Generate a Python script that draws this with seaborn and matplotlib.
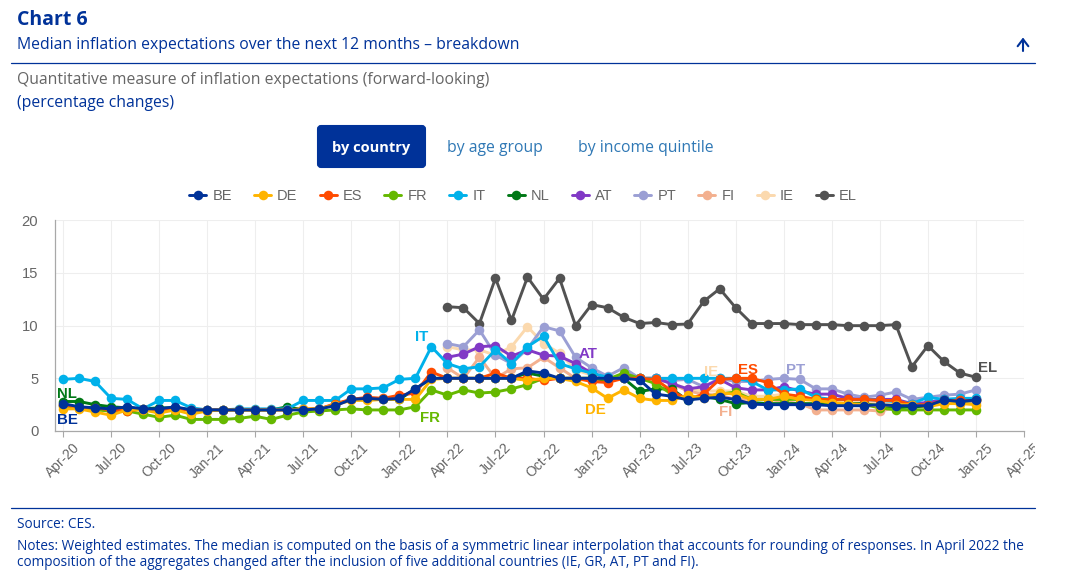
import matplotlib
matplotlib.use("Agg")
import matplotlib.pyplot as plt
from matplotlib.patches import FancyBboxPatch
from matplotlib.transforms import Bbox
import numpy as np
import pandas as pd
import seaborn as sns

NA = None
countries = ["BE", "DE", "ES", "FR", "IT", "NL", "AT", "PT", "FI", "IE", "EL"]
tick_labels = ["Apr-20", "Jul-20", "Oct-20", "Jan-21", "Apr-21", "Jul-21", "Oct-21", "Jan-22", "Apr-22", "Jul-22",
               "Oct-22", "Jan-23", "Apr-23", "Jul-23", "Oct-23", "Jan-24", "Apr-24", "Jul-24", "Oct-24", "Jan-25", "Apr-25"]

BE = [2.6,2.3,2.2,2.1,2.3,2.1,2.1,2.3,2.0,2.0, 2.0,2.0,2.0,2.0,2.0,2.0,2.1,2.4,3.0,3.1,
      3.0,3.1,4.0,5.0,5.0,5.0,5.0,5.0,5.0,5.7, 5.5,5.0,5.0,5.0,5.0,5.0,4.85,3.5,3.3,2.95,
      3.1,3.2,3.0,2.55,2.5,2.5,2.5,2.5,2.4,2.4, 2.4,2.5,2.4,2.4,2.4,2.95,2.8,2.95]
DE = [2.1,2.1,1.8,1.5,2.0,2.0,1.7,2.0,1.6,1.9, 2.0,2.0,2.0,2.0,2.0,2.1,2.1,2.5,2.9,2.9,
      3.0,3.0,3.0,4.9,5.0,5.0,5.0,5.0,5.0,4.8, 5.0,5.0,4.7,4.1,3.1,3.9,3.1,2.9,2.9,3.4,
      3.1,3.6,3.5,3.0,3.0,3.3,3.0,2.9,2.7,2.6, 2.5,2.4,2.5,2.5,2.3,2.6,2.6,2.5]
ES = [2.5,2.2,2.2,2.0,1.9,2.1,1.9,2.1,2.0,2.0, 2.0,2.0,2.0,2.0,2.0,2.1,2.1,2.6,3.0,3.2,
      3.1,3.4,3.6,5.6,5.0,5.0,5.0,5.5,5.0,5.0, 4.8,5.0,5.0,4.7,4.6,5.0,5.0,4.9,3.8,3.0,
      3.5,4.9,5.0,5.0,4.6,3.5,3.3,3.0,3.0,3.0, 3.0,2.9,2.9,2.5,2.5,2.9,2.9,2.9]
FR = [2.4,2.2,2.0,1.9,1.9,1.6,1.3,1.5,1.1,1.1, 1.1,1.2,1.4,1.1,1.5,1.8,1.9,2.0,2.1,2.0,
      2.0,2.0,2.3,3.9,3.4,3.9,3.6,3.7,4.0,4.4, 5.0,5.0,5.0,5.0,4.9,5.5,5.0,4.5,3.5,3.0,
      3.2,3.5,3.7,3.0,3.0,3.0,3.0,3.0,2.5,2.5, 2.5,2.2,2.0,2.0,2.0,2.0,2.0,2.0]
IT = [4.9,5.0,4.7,3.1,3.0,2.1,2.9,2.9,2.2,2.0, 2.0,2.1,2.1,2.1,2.1,2.9,2.9,2.9,4.0,4.0,
      4.1,4.9,5.0,8.0,6.4,5.9,6.1,7.7,6.4,8.0, 9.0,6.4,5.9,5.5,5.1,5.0,5.0,5.0,5.0,5.0,
      5.0,5.0,5.0,4.7,3.9,3.9,4.0,3.2,3.0,3.0, 3.0,2.9,2.8,2.6,3.2,3.0,3.1,3.1]
NL = [2.8,2.8,2.5,2.3,2.2,2.1,2.2,2.2,2.0,2.0, 2.0,2.0,2.0,2.0,2.3,2.0,2.1,2.5,3.0,3.1,
      3.0,3.0,4.0,5.0,5.0,5.0,5.0,5.0,5.0,5.5, 5.2,5.0,5.0,5.0,4.8,5.0,3.75,4.0,4.0,2.9,
      3.3,3.0,2.6,2.7,2.6,2.6,2.6,2.6,2.5,2.6, 2.6,2.4,2.2,2.3,2.3,2.9,2.8,2.9]
AT = [NA]*24 + [7.0,7.3,8.0,8.1,7.1,7.7,7.2,7.1,6.4,5.5, 5.0,5.2,5.0,5.0,4.5,4.0,4.2,4.9,4.1,3.9,
                3.9,4.2,3.8,3.5,3.5,3.1,3.0,3.0,3.0,2.6,2.7,3.0,3.0,3.0]
PT = [NA]*24 + [8.3,8.0,9.6,7.2,6.4,7.8,9.9,9.5,7.0,6.0, 5.2,6.0,5.0,5.0,4.8,4.9,4.2,5.0,4.7,4.7,
                4.9,5.0,4.9,4.0,4.0,3.5,3.2,3.4,3.7,3.0,3.2,3.4,3.5,3.9]
FI = [NA]*24 + [6.0,5.0,7.0,5.0,5.9,6.0,7.0,6.0,5.0,5.0, 5.0,5.0,5.0,5.0,4.5,3.8,3.5,3.4,3.0,3.0,
                3.0,2.8,2.6,2.0,2.0,2.0,2.0,1.9,2.2,2.4,2.5,2.8,2.8,2.8]
IE = [NA]*24 + [8.0,7.7,7.7,7.2,8.0,9.9,8.3,7.4,5.8,5.3, 5.0,5.0,5.0,5.0,4.5,4.0,3.8,3.8,3.8,3.3,
                3.3,3.5,3.2,3.0,2.8,2.8,2.8,2.7,2.8,2.6,2.6,3.0,3.0,3.0]
EL = [NA]*24 + [11.8,11.7,10.2,14.5,10.5,14.6,12.5,14.5,10.0,12.0, 11.7,10.8,10.2,10.3,10.1,10.15,12.3,13.5,11.7,10.2,
                10.2,10.2,10.1,10.1,10.1,10.0,10.0,10.0,10.1,6.1,8.1,6.6,5.5,5.1]

series = dict(BE=BE, DE=DE, ES=ES, FR=FR, IT=IT, NL=NL, AT=AT, PT=PT, FI=FI, IE=IE, EL=EL)
palette = dict(BE="#003299", DE="#ffb400", ES="#ff4b00", FR="#65b800", IT="#00b1ea", NL="#007816",
               AT="#8139c6", PT="#9b9fd4", FI="#f3b08f", IE="#fbd9ae", EL="#525252")
label_pos = [("BE", 0, 4, 16), ("NL", 0, 4, -8), ("IT", 23, -10, -10), ("FR", 23, -1, 28),
             ("DE", 33, 4, 22), ("AT", 33, -3, -19), ("IE", 40, 7, -19), ("ES", 43, -4, -8),
             ("FI", 41, 6, 17), ("PT", 45, 12, -8), ("EL", 57, 12, -9)]

NAVY = "#003299"
W, H = 1082, 583
sns.set_theme(style="white")
plt.rcParams["font.family"] = ["Liberation Sans", "DejaVu Sans"]
fig = plt.figure(figsize=(W / 100, H / 100), dpi=100, facecolor="white")

# chart axes, placed in pixels
L, R, T, B = 55, 1024, 220.3, 431
ax = fig.add_axes([L / W, 1 - B / H, (R - L) / W, (B - T) / H])

frame = pd.DataFrame([(c, i, v) for c in countries for i, v in enumerate(series[c]) if v is not None],
                     columns=["country", "month", "value"])
sns.lineplot(data=frame, x="month", y="value", hue="country", hue_order=countries[::-1], palette=palette,
             estimator=None, errorbar=None, marker="o", markersize=6.9, markeredgewidth=0, linewidth=2.1,
             ax=ax, clip_on=False)

ax.set_xlim(-0.5, 60)
ax.set_ylim(0, 20)
ax.set_xlabel("")
ax.set_ylabel("")
ax.set_xticks(np.arange(0, 61, 3))
ax.set_xticklabels(tick_labels, rotation=45, ha="center", color="#666666", fontsize=10)
ax.set_yticks([0, 5, 10, 15, 20])
ax.set_yticklabels(["0", "5", "10", "15", "20"], color="#666666", fontsize=10.6)
ax.grid(True, color="#eeeeee", linewidth=0.8)
ax.set_axisbelow(True)
for s in ["top", "right"]:
    ax.spines[s].set_visible(False)
for s in ["left", "bottom"]:
    ax.spines[s].set_color("#a8a8a8")
    ax.spines[s].set_linewidth(0.9)
ax.tick_params(axis="x", length=4, width=0.8, color="#a8a8a8", pad=3, bottom=True)
ax.tick_params(axis="y", length=0, pad=12, left=False)

# the last month's label is cut off at the chart's right edge
last = ax.get_xticklabels()[-1]
last.set_clip_box(Bbox([[0, 0], [1035, H]]))
last.set_clip_on(True)

for name, idx, dx, dy in label_pos:
    ax.annotate(name, xy=(idx, series[name][idx]), xytext=(dx * 0.72, -dy * 0.72), textcoords="offset points",
                ha="center", va="center", fontsize=10.8, fontweight="bold", color=palette[name],
                zorder=20, annotation_clip=False)

handles, labels = ax.get_legend_handles_labels()
by_label = dict(zip(labels, handles))
leg = ax.legend([by_label[c] for c in countries], countries, ncol=11, frameon=False, loc="center",
                bbox_to_anchor=((523 - L) / (R - L), (B - 196) / (B - T)), fontsize=10.5, labelcolor="#666666",
                handlelength=1.17, handletextpad=0.41, columnspacing=1.52, borderpad=0)

# page furniture, in pixel coordinates
ov = fig.add_axes([0, 0, 1, 1], facecolor="none")
ov.set_xlim(0, W)
ov.set_ylim(H, 0)
ov.axis("off")
ov.set_zorder(-1)
OS = ["Open Sans", "DejaVu Sans"]
ov.text(17, 20, "Chart 6", fontsize=14, fontweight="bold", color=NAVY, family=OS, va="center")
ov.text(17, 45, "Median inflation expectations over the next 12 months \u2013 breakdown", fontsize=11.3,
        color=NAVY, family=OS, va="center")
ov.annotate("", xy=(1023, 37.5), xytext=(1023, 51), xycoords="data", textcoords="data",
            arrowprops=dict(arrowstyle="->,head_length=0.42,head_width=0.32", color=NAVY, lw=1.5, shrinkA=0, shrinkB=0))
ov.plot([11, 1035], [62.5, 62.5], color=NAVY, lw=0.9)
ov.text(17, 80, "Quantitative measure of inflation expectations (forward-looking)", fontsize=11.3,
        color="#666666", family=OS, va="center")
ov.text(17, 103, "(percentage changes)", fontsize=11.3, color=NAVY, family=OS, va="center")
ov.add_patch(FancyBboxPatch((318, 126), 107, 41, boxstyle="round,pad=0,rounding_size=3", fc=NAVY, ec=NAVY, lw=1.5))
ov.text(371.5, 148, "by country", fontsize=10.5, fontweight="bold", color="white", family=OS, ha="center", va="center")
ov.text(494.5, 148, "by age group", fontsize=11.35, color="#2f78b5", family=OS, ha="center", va="center")
ov.text(646, 148, "by income quintile", fontsize=11.35, color="#2f78b5", family=OS, ha="center", va="center")
ov.plot([11, 1035], [507.5, 507.5], color=NAVY, lw=0.9)
ov.text(17, 524, "Source: CES.", fontsize=9.85, color=NAVY, family=OS, va="center")
ov.text(17, 546, "Notes: Weighted estimates. The median is computed on the basis of a symmetric linear interpolation that accounts for rounding of responses. In April 2022 the",
        fontsize=9.82, color=NAVY, family=OS, va="center")
ov.text(17, 562.5, "composition of the aggregates changed after the inclusion of five additional countries (IE, GR, AT, PT and FI).",
        fontsize=9.82, color=NAVY, family=OS, va="center")

fig.savefig("out.png", dpi=100, facecolor="white")
